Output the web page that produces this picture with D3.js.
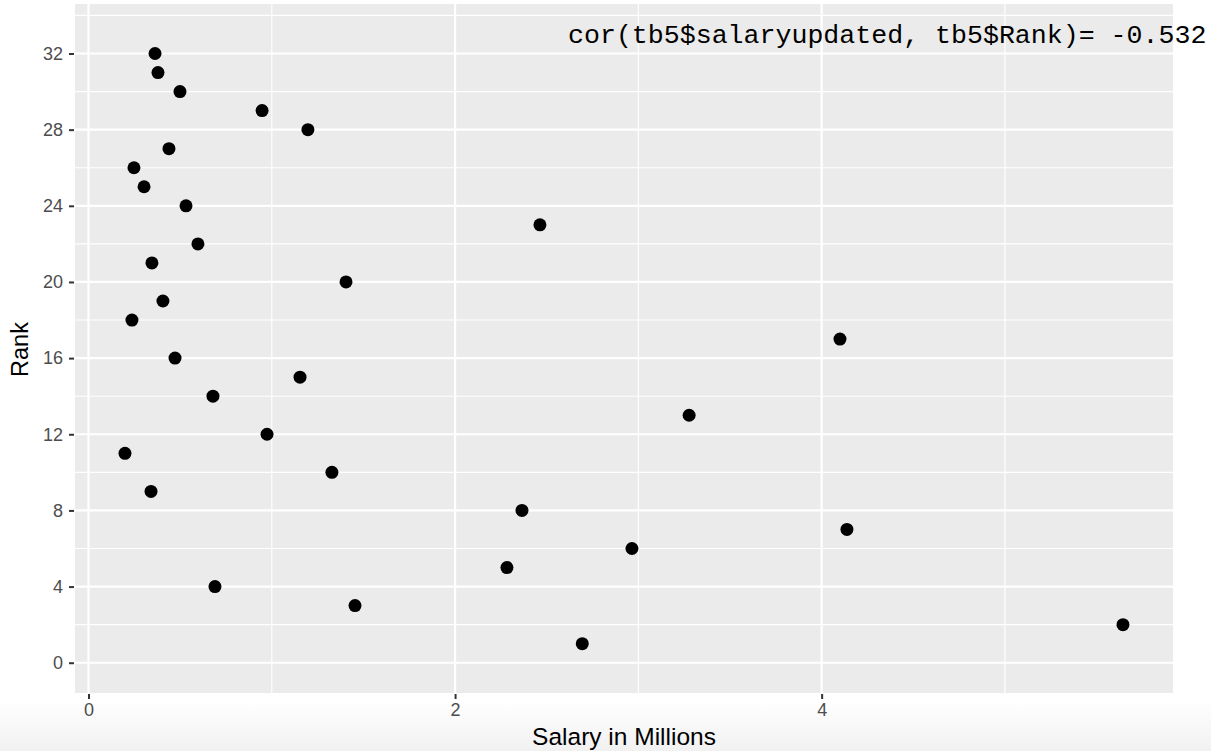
<!DOCTYPE html>
<html>
<head>
<meta charset="utf-8">
<script src="https://cdn.jsdelivr.net/npm/d3@7"></script>
<style>
  html, body { margin: 0; padding: 0; background: #ffffff; }
  svg { display: block; }
</style>
</head>
<body>
<svg id="chart" width="1211" height="751"></svg>
<script>
// Data (salary in millions, rank)
const salary = [0.363, 0.379, 0.499, 0.947, 1.197, 0.439, 0.248, 0.303, 0.532, 2.463,
                0.597, 0.346, 1.405, 0.406, 0.237, 4.10, 0.472, 1.154, 0.679, 3.277,
                0.974, 0.199, 1.328, 0.341, 2.365, 4.138, 2.965, 2.283, 0.690, 1.454,
                5.644, 2.694];
const rank = [32, 31, 30, 29, 28, 27, 26, 25, 24, 23,
              22, 21, 20, 19, 18, 17, 16, 15, 14, 13,
              12, 11, 10, 9, 8, 7, 6, 5, 4, 3,
              2, 1];
const xTicks = [0, 2, 4];
const xMinor = [1, 3, 5];
const yTicks = [0, 4, 8, 12, 16, 20, 24, 28, 32];
const yMinor = [2, 6, 10, 14, 18, 22, 26, 30, 34];
const xTitle = "Salary in Millions";
const yTitle = "Rank";
const annotation = "cor(tb5$salaryupdated, tb5$Rank)= -0.532";

const svg = d3.select("#chart");
const W = 1211, H = 751;
const panel = { left: 75, right: 1173, top: 4, bottom: 693 };

// subtle bottom fade
const defs = svg.append("defs");
const grad = defs.append("linearGradient").attr("id", "fade").attr("x1", 0).attr("y1", 0).attr("x2", 0).attr("y2", 1);
grad.append("stop").attr("offset", "0%").attr("stop-color", "#ffffff");
grad.append("stop").attr("offset", "100%").attr("stop-color", "#f1f1f1");
svg.append("rect").attr("x", 0).attr("y", 700).attr("width", W).attr("height", H - 700).attr("fill", "url(#fade)");

const x = d3.scaleLinear().domain([-0.0737, 5.917]).range([panel.left, panel.right]);
const y = d3.scaleLinear().domain([-1.59, 34.6]).range([panel.bottom, panel.top]);

svg.append("rect")
  .attr("x", panel.left).attr("y", panel.top)
  .attr("width", panel.right - panel.left).attr("height", panel.bottom - panel.top)
  .attr("fill", "#ebebeb");

const grid = svg.append("g");
grid.selectAll("line.ymin").data(yMinor.filter(v => y(v) > panel.top)).enter().append("line")
  .attr("x1", panel.left).attr("x2", panel.right)
  .attr("y1", d => y(d)).attr("y2", d => y(d))
  .attr("stroke", "#ffffff").attr("stroke-width", 1.1);
grid.selectAll("line.xmin").data(xMinor).enter().append("line")
  .attr("y1", panel.top).attr("y2", panel.bottom)
  .attr("x1", d => x(d)).attr("x2", d => x(d))
  .attr("stroke", "#ffffff").attr("stroke-width", 1.1);
grid.selectAll("line.ymaj").data(yTicks).enter().append("line")
  .attr("x1", panel.left).attr("x2", panel.right)
  .attr("y1", d => y(d)).attr("y2", d => y(d))
  .attr("stroke", "#ffffff").attr("stroke-width", 2.2);
grid.selectAll("line.xmaj").data(xTicks).enter().append("line")
  .attr("y1", panel.top).attr("y2", panel.bottom)
  .attr("x1", d => x(d)).attr("x2", d => x(d))
  .attr("stroke", "#ffffff").attr("stroke-width", 2.2);

// Axes
const yAxis = d3.axisLeft(y).tickValues(yTicks).tickSize(5).tickPadding(6).tickFormat(d3.format("d"));
const gy = svg.append("g").attr("transform", `translate(${panel.left - 1},0)`).call(yAxis);
gy.select(".domain").remove();
gy.selectAll(".tick line").attr("stroke", "#333333").attr("stroke-width", 2);
gy.selectAll(".tick text").attr("fill", "#4d4d4d").style("font-family", "'Liberation Sans', Arial, sans-serif").style("font-size", "18px");

const xAxis = d3.axisBottom(x).tickValues(xTicks).tickSize(5).tickPadding(4).tickFormat(d3.format("d"));
const gx = svg.append("g").attr("transform", `translate(0,${panel.bottom + 1})`).call(xAxis);
gx.select(".domain").remove();
gx.selectAll(".tick line").attr("stroke", "#333333").attr("stroke-width", 2);
gx.selectAll(".tick text").attr("fill", "#4d4d4d").style("font-family", "'Liberation Sans', Arial, sans-serif").style("font-size", "18px");

// Points
svg.append("g").selectAll("circle").data(salary.map((s, i) => ({ s, r: rank[i] }))).enter().append("circle")
  .attr("cx", d => x(d.s)).attr("cy", d => y(d.r)).attr("r", 6.5).attr("fill", "#000000");

// Annotation
svg.append("text")
  .attr("x", 568).attr("y", 43)
  .style("font-family", "'Liberation Mono', 'Courier New', monospace")
  .style("font-size", "26.6px")
  .attr("fill", "#000000")
  .text(annotation);

// Titles
svg.append("text")
  .attr("x", (panel.left + panel.right) / 2).attr("y", 745)
  .attr("text-anchor", "middle")
  .style("font-family", "'Liberation Sans', Arial, sans-serif").style("font-size", "24.5px")
  .attr("fill", "#000000").text(xTitle);
svg.append("text")
  .attr("transform", `translate(28,${(panel.top + panel.bottom) / 2 + 1}) rotate(-90)`)
  .attr("text-anchor", "middle")
  .style("font-family", "'Liberation Sans', Arial, sans-serif").style("font-size", "23.5px")
  .attr("fill", "#000000").text(yTitle);
</script>
</body>
</html>
